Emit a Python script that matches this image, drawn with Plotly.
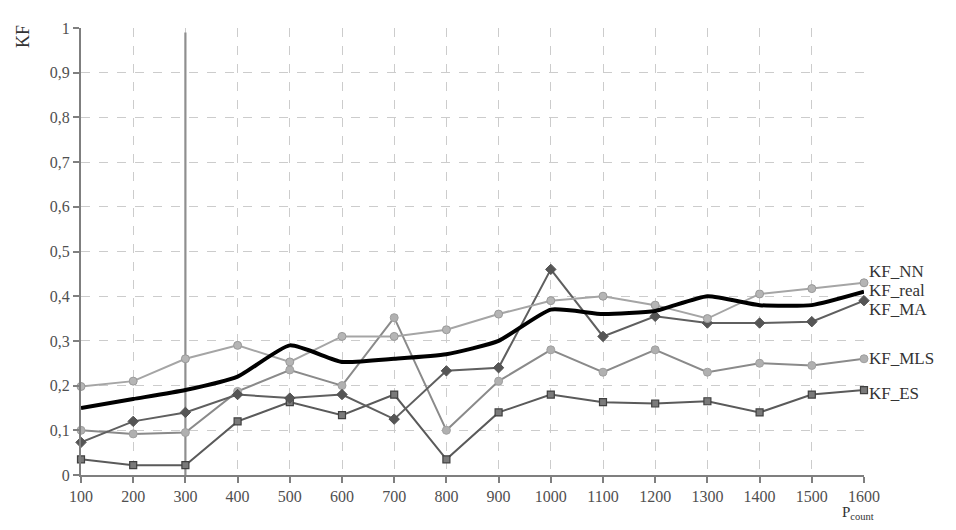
import plotly.graph_objects as go

p_count = [100, 200, 300, 400, 500, 600, 700, 800, 900, 1000, 1100, 1200, 1300, 1400, 1500, 1600]
kf_real = [0.15, 0.17, 0.19, 0.22, 0.29, 0.253, 0.26, 0.27, 0.30, 0.37, 0.36, 0.367, 0.40, 0.38, 0.38, 0.41]
kf_nn = [0.198, 0.21, 0.26, 0.29, 0.253, 0.31, 0.31, 0.325, 0.36, 0.39, 0.40, 0.38, 0.35, 0.405, 0.417, 0.43]
kf_ma = [0.073, 0.12, 0.14, 0.18, 0.172, 0.18, 0.125, 0.233, 0.24, 0.46, 0.31, 0.355, 0.34, 0.34, 0.343, 0.39]
kf_mls = [0.10, 0.092, 0.095, 0.187, 0.235, 0.20, 0.352, 0.10, 0.21, 0.28, 0.23, 0.28, 0.23, 0.25, 0.245, 0.26]
kf_es = [0.035, 0.022, 0.022, 0.12, 0.163, 0.134, 0.18, 0.035, 0.14, 0.18, 0.163, 0.16, 0.165, 0.14, 0.18, 0.19]

marker_line_x = [300, 300]
marker_line_y = [0, 0.99]

y_ticks = [0, 0.1, 0.2, 0.3, 0.4, 0.5, 0.6, 0.7, 0.8, 0.9, 1.0]
y_labels = ["0", "0,1", "0,2", "0,3", "0,4", "0,5", "0,6", "0,7", "0,8", "0,9", "1"]

labels = ["KF_NN", "KF_real", "KF_MA", "KF_MLS", "KF_ES"]
label_y = [0.455, 0.413, 0.371, 0.26, 0.182]

serif = "Liberation Serif, Times New Roman, serif"

fig = go.Figure()

fig.add_trace(go.Scatter(x=marker_line_x, y=marker_line_y, mode="lines",
                         line=dict(color="#8f8f8f", width=2.2), showlegend=False, hoverinfo="skip"))

fig.add_trace(go.Scatter(x=p_count, y=kf_es, mode="lines+markers", name="KF_ES",
                         line=dict(color="#5a5a5a", width=2),
                         marker=dict(symbol="square", size=7, color="#7a7a7a", line=dict(color="#404040", width=1.2)),
                         cliponaxis=False))
fig.add_trace(go.Scatter(x=p_count, y=kf_mls, mode="lines+markers", name="KF_MLS",
                         line=dict(color="#8a8a8a", width=2),
                         marker=dict(symbol="circle", size=8, color="#b0b0b0", line=dict(color="#a0a0a0", width=1)),
                         cliponaxis=False))
fig.add_trace(go.Scatter(x=p_count, y=kf_ma, mode="lines+markers", name="KF_MA",
                         line=dict(color="#5f5f5f", width=2),
                         marker=dict(symbol="diamond", size=8, color="#555555", line=dict(color="#505050", width=1)),
                         cliponaxis=False))
fig.add_trace(go.Scatter(x=p_count, y=kf_nn, mode="lines+markers", name="KF_NN",
                         line=dict(color="#a5a5a5", width=2),
                         marker=dict(symbol="circle", size=8, color="#b5b5b5", line=dict(color="#999999", width=1)),
                         cliponaxis=False))
fig.add_trace(go.Scatter(x=p_count, y=kf_real, mode="lines", name="KF_real",
                         line=dict(color="#000000", width=4, shape="spline", smoothing=0.5),
                         cliponaxis=False))

for lab, ly in zip(labels, label_y):
    fig.add_annotation(x=1, xref="paper", y=ly, yref="y", text=lab, showarrow=False,
                       xanchor="left", yanchor="middle", xshift=3,
                       font=dict(family=serif, size=17, color="#333333"))

fig.add_annotation(x=0, xref="paper", y=1, yref="paper", text="KF", showarrow=False,
                   textangle=-90, xanchor="center", yanchor="middle", xshift=-58, yshift=-9,
                   font=dict(family=serif, size=18, color="#333333"))
fig.add_annotation(x=1, xref="paper", y=0, yref="paper", text="P<sub>count</sub>", showarrow=False,
                   xanchor="right", yanchor="top", yshift=-27, xshift=12,
                   font=dict(family=serif, size=15, color="#333333"))

fig.update_layout(
    width=940, height=514,
    margin=dict(l=73, r=84, t=13, b=47),
    paper_bgcolor="white", plot_bgcolor="white",
    showlegend=False,
    font=dict(family=serif, size=16, color="#505050"),
)
fig.update_xaxes(range=[100, 1600], tickvals=p_count, ticktext=[str(v) for v in p_count],
                 showgrid=True, gridcolor="#cccccc", griddash="dash", gridwidth=1,
                 showline=True, linecolor="#7f7f7f", linewidth=2,
                 ticks="outside", ticklen=6, tickcolor="#7f7f7f", tickwidth=1.5,
                 zeroline=False, tickfont=dict(family=serif, size=16, color="#505050"))
fig.update_yaxes(range=[0, 1], tickvals=y_ticks, ticktext=y_labels,
                 showgrid=True, gridcolor="#cccccc", griddash="dash", gridwidth=1,
                 showline=True, linecolor="#7f7f7f", linewidth=2,
                 ticks="outside", ticklen=6, tickcolor="#7f7f7f", tickwidth=1.5,
                 zeroline=False, tickfont=dict(family=serif, size=16, color="#505050"))

fig.write_html("out.html")
